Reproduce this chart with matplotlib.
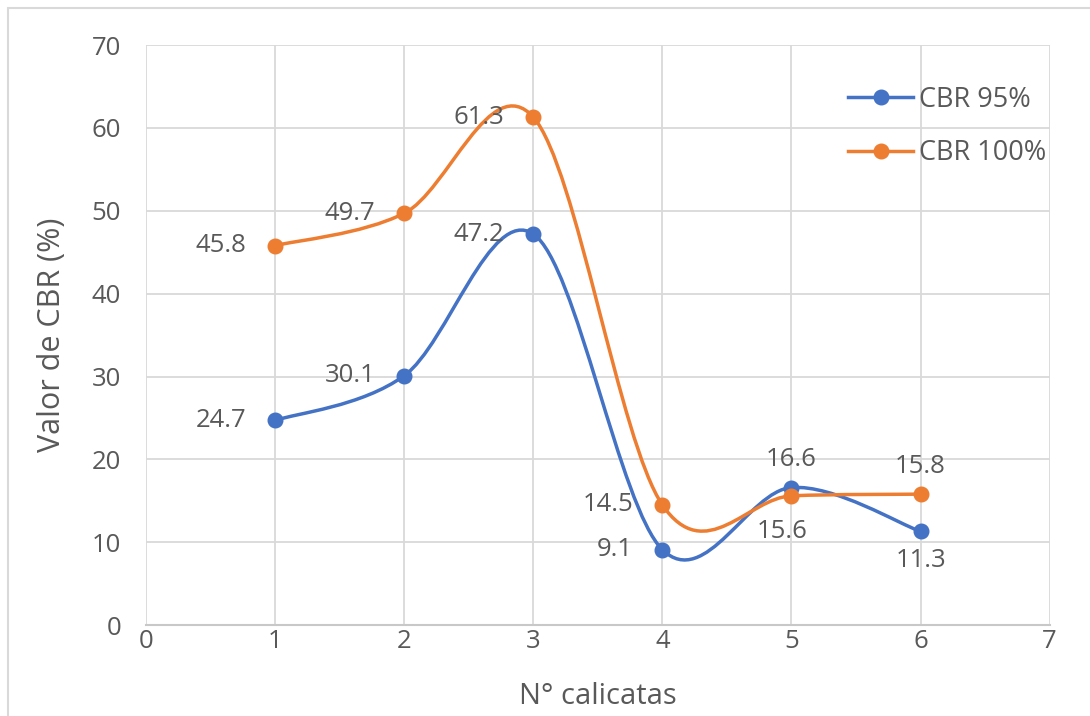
import numpy as np
import matplotlib
matplotlib.use("Agg")
import matplotlib.pyplot as plt
from matplotlib.path import Path
from matplotlib.patches import PathPatch, Rectangle

plt.rcParams['font.family'] = ['Open Sans', 'DejaVu Sans']

calicatas = [1, 2, 3, 4, 5, 6]
cbr95 = [24.7, 30.1, 47.2, 9.1, 16.6, 11.3]
cbr100 = [45.8, 49.7, 61.3, 14.5, 15.6, 15.8]

# label placement per point (like excel data labels)
pos95 = ['left', 'left', 'left', 'left', 'above', 'below']
pos100 = ['left', 'left', 'left', 'left', 'below2', 'above']

blue = '#4472C4'
orange = '#ED7D31'
txt = '#595959'
fs = 18.5

# offset (points), ha, va for each placement
place = {'left': ((-21, 0), 'right', 'center'),
         'above': ((0, 11), 'center', 'bottom'),
         'below': ((0, -12), 'center', 'top'),
         'below2': ((-7, -17), 'center', 'top')}


def smooth_path(x, y):
    # excel style smoothed line: catmull-rom converted to cubic bezier
    pts = np.column_stack([x, y]).astype(float)
    n = len(pts)
    verts = [pts[0]]
    codes = [Path.MOVETO]
    for i in range(n - 1):
        p0 = pts[i - 1] if i > 0 else pts[i]
        p1 = pts[i]
        p2 = pts[i + 1]
        p3 = pts[i + 2] if i + 2 < n else pts[i + 1]
        c1 = p1 + (p2 - p0) / 6.0
        c2 = p2 - (p3 - p1) / 6.0
        verts += [c1, c2, p2]
        codes += [Path.CURVE4] * 3
    return Path(verts, codes)


fig = plt.figure(figsize=(10.9, 7.16), dpi=100)
ax = fig.add_axes([0.134, 0.127, 0.829, 0.810])

for ys, col, lab, poss in [(cbr95, blue, 'CBR 95%', pos95),
                          (cbr100, orange, 'CBR 100%', pos100)]:
    ax.add_patch(PathPatch(smooth_path(calicatas, ys), fill=False,
                           edgecolor=col, lw=2.5, zorder=3, capstyle='round'))
    ax.plot(calicatas, ys, 'o', color=col, ms=10.5, zorder=4)
    ax.plot([], [], '-o', color=col, ms=10.5, lw=2.5, label=lab)
    for xv, yv, p in zip(calicatas, ys, poss):
        off, ha, va = place[p]
        ax.annotate(f'{yv}', (xv, yv), xytext=off, textcoords='offset points',
                    ha=ha, va=va, fontsize=fs, color=txt)

ax.set_xlim(0, 7)
ax.set_ylim(0, 70)
ax.set_xticks(range(0, 8))
ax.set_yticks(range(0, 80, 10))
ax.grid(True, color='#D9D9D9', lw=1.3, zorder=0)
ax.set_axisbelow(True)
for s in ['top', 'right', 'left']:
    ax.spines[s].set_visible(False)
ax.spines['bottom'].set_color('#C8C8C8')
ax.spines['bottom'].set_linewidth(1.5)
ax.tick_params(length=0, labelsize=fs, labelcolor=txt)
ax.tick_params(axis='y', pad=18)
ax.tick_params(axis='x', pad=3)
ax.set_xlabel('N° calicatas', fontsize=21, color=txt, labelpad=20)
ax.set_ylabel('Valor de CBR (%)', fontsize=22, color=txt, labelpad=18)

ax.legend(loc='upper left', bbox_to_anchor=(0.777, 0.93), frameon=False,
          fontsize=19.5, labelcolor=txt, handlelength=2.4, handletextpad=0.2,
          labelspacing=0.95, borderaxespad=0, borderpad=0)

fig.patches.append(Rectangle((8 / 1090, -0.05), 1.1, (716 - 8) / 716 + 0.05,
                             transform=fig.transFigure, fill=False,
                             edgecolor='#D9D9D9', lw=1.5))

fig.savefig('out.png', dpi=100, facecolor='white')
